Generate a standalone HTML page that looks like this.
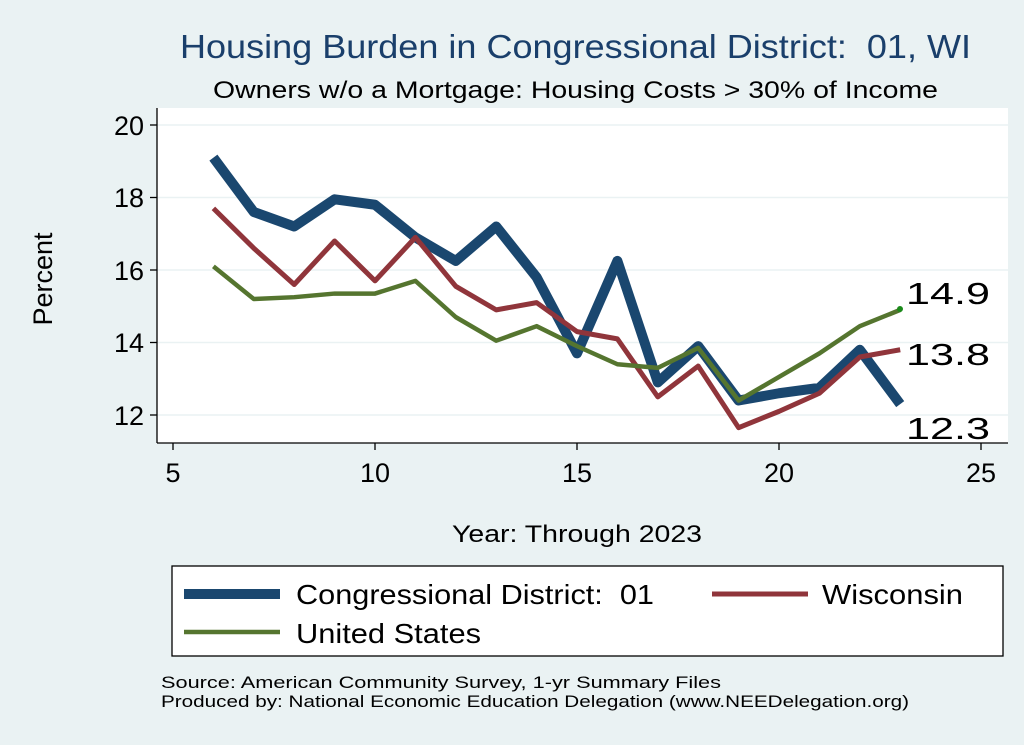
<!DOCTYPE html>
<html><head><meta charset="utf-8"><style>
body{margin:0;background:#eaf2f3;}
svg{display:block;font-family:"Liberation Sans",sans-serif;}
text{white-space:pre;}
</style></head><body>
<svg width="1024" height="745" viewBox="0 0 1024 745">
<rect width="1024" height="745" fill="#eaf2f3"/>
<text x="180" y="58" font-size="33" fill="#1a3f6b" textLength="791" lengthAdjust="spacingAndGlyphs">Housing Burden in Congressional District:  01, WI</text>
<text x="213" y="98" font-size="24" fill="#000" textLength="725" lengthAdjust="spacingAndGlyphs">Owners w/o a Mortgage: Housing Costs &gt; 30% of Income</text>
<rect x="157" y="108" width="851" height="335" fill="#fff"/>
<g stroke="#eaf2f3" stroke-width="1.5">
<line x1="157" x2="1008" y1="125" y2="125"/><line x1="157" x2="1008" y1="197.5" y2="197.5"/>
<line x1="157" x2="1008" y1="270" y2="270"/><line x1="157" x2="1008" y1="342.5" y2="342.5"/>
<line x1="157" x2="1008" y1="415" y2="415"/>
</g>
<g stroke="#000" stroke-width="1.3">
<line x1="157" y1="108" x2="157" y2="443"/><line x1="157" y1="443" x2="1008" y2="443"/>
<line x1="150" x2="157" y1="125" y2="125"/><line x1="150" x2="157" y1="197.5" y2="197.5"/><line x1="150" x2="157" y1="270" y2="270"/><line x1="150" x2="157" y1="342.5" y2="342.5"/><line x1="150" x2="157" y1="415" y2="415"/>
<line x1="173" x2="173" y1="443" y2="450"/><line x1="375" x2="375" y1="443" y2="450"/><line x1="577" x2="577" y1="443" y2="450"/><line x1="779" x2="779" y1="443" y2="450"/><line x1="981" x2="981" y1="443" y2="450"/>
</g>
<g font-size="27" text-anchor="end">
<text x="144" y="135">20</text><text x="144" y="207">18</text><text x="144" y="280">16</text><text x="144" y="352">14</text><text x="144" y="425">12</text>
</g>
<g font-size="27" text-anchor="middle">
<text x="173" y="482">5</text><text x="375" y="482">10</text><text x="577" y="482">15</text><text x="779" y="482">20</text><text x="981" y="482">25</text>
</g>
<text x="52" y="279" font-size="27" text-anchor="middle" transform="rotate(-90 52 279)">Percent</text>
<text x="452" y="542" font-size="24" textLength="250" lengthAdjust="spacingAndGlyphs">Year: Through 2023</text>
<g transform="matrix(40.4 0 0 -36.25 -29 850)" fill="none" stroke-linejoin="round">
<polyline vector-effect="non-scaling-stroke" stroke="#1a476f" stroke-width="10" points="6,19.1 7,17.6 8,17.2 9,17.95 10,17.8 11,16.9 12,16.25 13,17.2 14,15.8 15,13.7 16,16.25 17,12.9 18,13.9 19,12.4 20,12.6 21,12.75 22,13.8 23,12.3"/>
<polyline vector-effect="non-scaling-stroke" stroke="#90353b" stroke-width="5" points="6,17.7 7,16.6 8,15.6 9,16.8 10,15.7 11,16.9 12,15.55 13,14.9 14,15.1 15,14.3 16,14.1 17,12.5 18,13.35 19,11.65 20,12.1 21,12.6 22,13.6 23,13.8"/>
<polyline vector-effect="non-scaling-stroke" stroke="#55752f" stroke-width="4.5" points="6,16.1 7,15.2 8,15.25 9,15.35 10,15.35 11,15.7 12,14.7 13,14.05 14,14.45 15,13.9 16,13.4 17,13.3 18,13.85 19,12.4 20,13.05 21,13.7 22,14.45 23,14.9"/>
</g>
<circle cx="900" cy="309" r="3" fill="#1a8a1a"/>
<g font-size="31">
<text x="906" y="304" textLength="84" lengthAdjust="spacingAndGlyphs">14.9</text><text x="906" y="365" textLength="84" lengthAdjust="spacingAndGlyphs">13.8</text><text x="906" y="439" textLength="84" lengthAdjust="spacingAndGlyphs">12.3</text>
</g>
<rect x="172" y="566" width="831" height="90" fill="#fff" stroke="#000" stroke-width="1.3"/>
<line x1="184" x2="280" y1="594" y2="594" stroke="#1a476f" stroke-width="10"/>
<text x="296" y="604" font-size="28" textLength="358" lengthAdjust="spacingAndGlyphs">Congressional District:  01</text>
<line x1="712" x2="808" y1="594" y2="594" stroke="#90353b" stroke-width="5"/>
<text x="822" y="604" font-size="28" textLength="141" lengthAdjust="spacingAndGlyphs">Wisconsin</text>
<line x1="184" x2="280" y1="632" y2="632" stroke="#55752f" stroke-width="4.5"/>
<text x="296" y="643" font-size="28" textLength="185" lengthAdjust="spacingAndGlyphs">United States</text>
<text x="161" y="688" font-size="17" textLength="560" lengthAdjust="spacingAndGlyphs">Source: American Community Survey, 1-yr Summary Files</text>
<text x="161" y="707" font-size="17" textLength="748" lengthAdjust="spacingAndGlyphs">Produced by: National Economic Education Delegation (www.NEEDelegation.org)</text>
</svg>
</body></html>
